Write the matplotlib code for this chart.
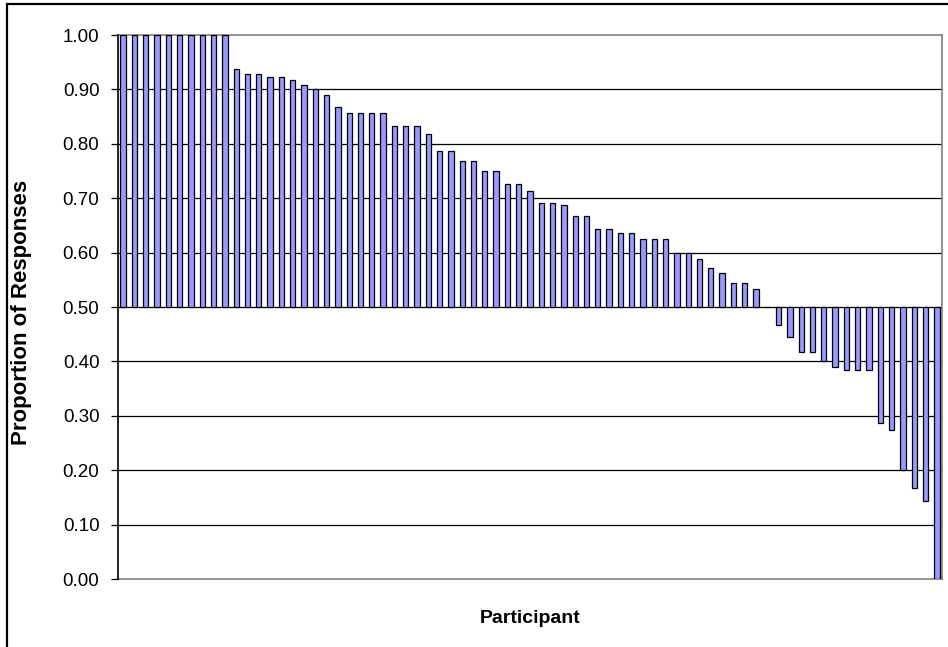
import matplotlib
matplotlib.use("Agg")
import matplotlib.pyplot as plt
from matplotlib.patches import Rectangle
import numpy as np

plt.rcParams['font.family'] = ['Liberation Sans', 'DejaVu Sans']

# Proportion of responses per participant (sorted, bars drawn from the 0.50 baseline)
proportions = [
    1.000, 1.000, 1.000, 1.000, 1.000, 1.000, 1.000, 1.000, 1.000, 1.000,
    0.938, 0.929, 0.929, 0.923, 0.923, 0.917, 0.909, 0.900, 0.889, 0.867,
    0.857, 0.857, 0.857, 0.857, 0.833, 0.833, 0.833, 0.818, 0.786, 0.786,
    0.769, 0.769, 0.750, 0.750, 0.727, 0.727, 0.714, 0.692, 0.692, 0.688,
    0.667, 0.667, 0.643, 0.643, 0.636, 0.636, 0.625, 0.625, 0.625, 0.600,
    0.600, 0.588, 0.571, 0.562, 0.545, 0.545, 0.533, 0.500, 0.467, 0.444,
    0.417, 0.417, 0.400, 0.389, 0.385, 0.385, 0.385, 0.286, 0.273, 0.200,
    0.167, 0.143, 0.000,
]
baseline = 0.5
y_ticks = [0.0, 0.1, 0.2, 0.3, 0.4, 0.5, 0.6, 0.7, 0.8, 0.9, 1.0]
y_tick_labels = [f"{t:.2f}" for t in y_ticks]
x_label = "Participant"
y_label = "Proportion of Responses"

W, H = 948, 647
fig = plt.figure(figsize=(W / 100, H / 100), dpi=100)
ax = fig.add_axes([117.5 / W, 1 - 579 / H, (942.5 - 117.5) / W, (579 - 35) / H])

x = np.arange(len(proportions))
heights = np.array(proportions) - baseline
ax.bar(x, heights, bottom=baseline, width=0.47, color="#9999FF",
       edgecolor="black", linewidth=0.9, zorder=3)

ax.set_xlim(-0.5, len(proportions) - 0.5)
ax.set_ylim(0, 1)
ax.set_yticks(y_ticks)
ax.set_yticklabels(y_tick_labels, fontsize=13.5)
ax.set_xticks([])

for t in y_ticks[1:-1]:
    ax.axhline(t, color="black", linewidth=0.9, zorder=2)

ax.tick_params(axis="y", direction="out", length=5, width=0.9, color="black", pad=8)
for side in ["top", "right", "bottom"]:
    ax.spines[side].set_color("#808080")
    ax.spines[side].set_linewidth(1.2)
ax.spines["left"].set_color("black")
ax.spines["left"].set_linewidth(1.2)
ax.spines["left"].set_zorder(4)

ax.set_xlabel(x_label, fontsize=14, fontweight="bold", labelpad=22)
ax.set_ylabel(y_label, fontsize=16, fontweight="bold")
ax.yaxis.set_label_coords(-0.104, 0.49)

# outer chart frame
fig.patches.append(Rectangle((7 / W, -0.1), 1.2, 1 - 3.5 / H + 0.1,
                             transform=fig.transFigure, fill=False,
                             edgecolor="black", linewidth=1.6))

fig.savefig("out.png", dpi=100)
